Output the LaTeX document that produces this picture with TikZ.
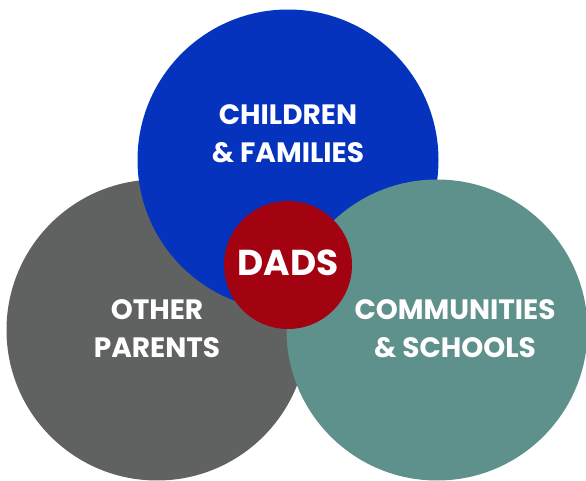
\documentclass[tikz,border=0pt]{standalone}
\usepackage{fontspec}
\setmainfont{Poppins}
\definecolor{kidsblue}{RGB}{6,51,190}
\definecolor{parentgrey}{RGB}{96,98,97}
\definecolor{schoolteal}{RGB}{94,145,139}
\definecolor{dadsred}{RGB}{163,2,17}
\tikzset{every picture/.style={line width=0.75pt}}
\tikzset{
  bubble/.style={circle,inner sep=0pt,minimum size=301*0.75pt},
  core/.style={circle,inner sep=0pt,minimum size=128*0.75pt},
  tag/.style={text=white,align=center,font=\bfseries\fontsize{21}{28.5}\selectfont}
}
\begin{document}
\begin{tikzpicture}[x=0.75pt,y=0.75pt,yscale=-1,xscale=1]
\useasboundingbox (0,0) rectangle (586,481);

% Circles
\node[bubble,fill=parentgrey] (parents) at (157,330) {};
\node[bubble,fill=kidsblue] (children) at (288,160) {};
\node[bubble,fill=schoolteal] (schools) at (437,330) {};
\node[core,fill=dadsred] (dads) at (288,265) {};
% Text Node
\node[tag] (childrentxt) at (288,134) {CHILDREN\\\& FAMILIES};
% Text Node
\node[tag] (parentstxt) at (157,329) {OTHER\\PARENTS};
% Text Node
\node[tag] (schoolstxt) at (455,329) {COMMUNITIES\\\& SCHOOLS};
% Text Node
\node[tag,font=\bfseries\fontsize{27}{30}\selectfont] (dadstxt) at (288,263) {DADS};

\end{tikzpicture}
\end{document}
